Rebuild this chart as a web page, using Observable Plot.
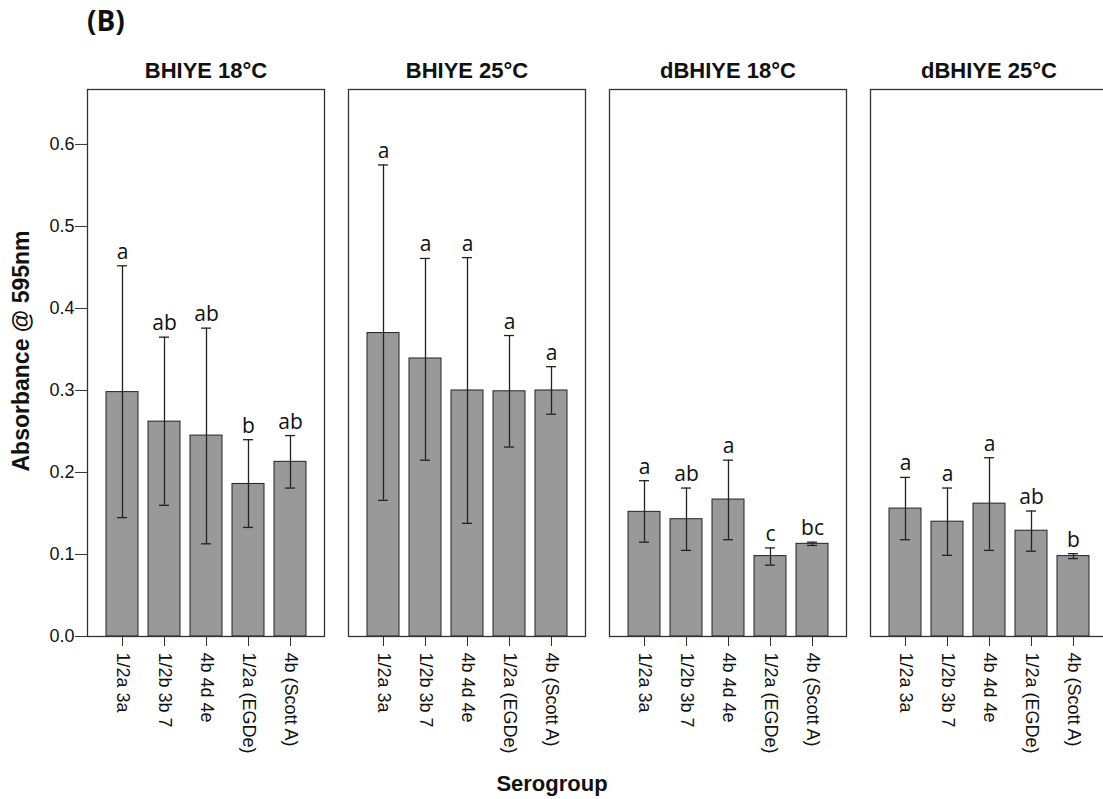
<!DOCTYPE html>
<html>
<head>
<meta charset="utf-8">
<script src="https://cdn.jsdelivr.net/npm/d3@7"></script>
<script src="https://cdn.jsdelivr.net/npm/@observablehq/plot@0.6"></script>
<style>
  body { margin: 0; background: #fff; }
  #wrap { position: relative; width: 1103px; height: 799px; overflow: hidden; background: #fff; }
  #tag { position: absolute; left: 87px; top: 6px; font: bold 28px "Open Sans", sans-serif; line-height: 1; color: #111; }
  #chart { position: absolute; left: 0; top: 50px; width: 1110px; }
  #chart svg { max-width: none !important; }
  #xlab { position: absolute; left: 452px; width: 200px; top: 773px; text-align: center;
          font: bold 22px "Liberation Sans", Arial, sans-serif; line-height: 22px; color: #111; }
</style>
</head>
<body>
<div id="wrap">
  <div id="tag">(B)</div>
  <div id="chart"></div>
  <div id="xlab">Serogroup</div>
</div>
<script>
// Panels (media / temperature) and serogroups
const panels = ["BHIYE 18°C", "BHIYE 25°C", "dBHIYE 18°C", "dBHIYE 25°C"];
const serogroups = ["1/2a 3a", "1/2b 3b 7", "4b 4d 4e", "1/2a (EGDe)", "4b (Scott A)"];

// BHIYE 18°C
const bhiye18Mean = [0.298, 0.262, 0.245, 0.186, 0.213];
const bhiye18Low  = [0.145, 0.160, 0.113, 0.133, 0.181];
const bhiye18High = [0.452, 0.365, 0.376, 0.240, 0.245];
const bhiye18Letters = ["a", "ab", "ab", "b", "ab"];

// BHIYE 25°C
const bhiye25Mean = [0.370, 0.339, 0.300, 0.299, 0.300];
const bhiye25Low  = [0.166, 0.215, 0.138, 0.231, 0.271];
const bhiye25High = [0.575, 0.461, 0.462, 0.367, 0.329];
const bhiye25Letters = ["a", "a", "a", "a", "a"];

// dBHIYE 18°C
const dbhiye18Mean = [0.152, 0.143, 0.167, 0.098, 0.113];
const dbhiye18Low  = [0.115, 0.105, 0.118, 0.087, 0.111];
const dbhiye18High = [0.190, 0.181, 0.215, 0.108, 0.115];
const dbhiye18Letters = ["a", "ab", "a", "c", "bc"];

// dBHIYE 25°C
const dbhiye25Mean = [0.156, 0.140, 0.162, 0.129, 0.098];
const dbhiye25Low  = [0.118, 0.099, 0.105, 0.104, 0.095];
const dbhiye25High = [0.194, 0.181, 0.218, 0.153, 0.101];
const dbhiye25Letters = ["a", "a", "a", "ab", "b"];

const yTicks = [0, 0.1, 0.2, 0.3, 0.4, 0.5, 0.6];
const yLabel = "Absorbance @ 595nm";

const means = [bhiye18Mean, bhiye25Mean, dbhiye18Mean, dbhiye25Mean];
const lows = [bhiye18Low, bhiye25Low, dbhiye18Low, dbhiye25Low];
const highs = [bhiye18High, bhiye25High, dbhiye18High, dbhiye25High];
const letters = [bhiye18Letters, bhiye25Letters, dbhiye18Letters, dbhiye25Letters];

const rows = [];
panels.forEach((p, i) => serogroups.forEach((s, j) => rows.push({
  panel: p, sero: s, mean: means[i][j], low: lows[i][j], high: highs[i][j], letter: letters[i][j]
})));

const ink = "#222";
const chart = Plot.plot({
  width: 1110,
  height: 720,
  marginTop: 39,
  marginBottom: 134,
  marginLeft: 86,
  marginRight: 2.5,
  style: { fontFamily: "'Liberation Sans', Arial, sans-serif", fontSize: "18px", color: "#111", background: "white", maxWidth: "none" },
  fx: { domain: panels, paddingInner: 0.0918, paddingOuter: 0, label: null },
  x: { domain: serogroups, paddingInner: 0.24, paddingOuter: 0.41, label: null },
  y: { domain: [0, 0.667], label: null },
  marks: [
    Plot.barY(rows, { fx: "panel", x: "sero", y: "mean", fill: "#999999", stroke: ink, strokeWidth: 1 }),
    Plot.ruleX(rows, { fx: "panel", x: "sero", y1: "low", y2: "high", stroke: ink, strokeWidth: 1.3 }),
    Plot.tickY(rows, { fx: "panel", x: "sero", y: "low", insetLeft: 11, insetRight: 11, stroke: ink, strokeWidth: 1.3 }),
    Plot.tickY(rows, { fx: "panel", x: "sero", y: "high", insetLeft: 11, insetRight: 11, stroke: ink, strokeWidth: 1.3 }),
    Plot.text(rows, { fx: "panel", x: "sero", y: "high", text: "letter", lineAnchor: "bottom", dy: -7,
                      fontFamily: "'Open Sans', sans-serif", fontSize: 21, fill: "#111" }),
    Plot.frame({ stroke: "#333", strokeWidth: 1.3 }),
    Plot.axisFx({ anchor: "top", tickSize: 0, tickPadding: 12, fontSize: 22, fontWeight: "bold", label: null }),
    Plot.axisY({ ticks: yTicks, tickFormat: d3.format(".1f"), tickSize: 12, tickPadding: 1, label: null, stroke: "#333" }),
    Plot.axisX({ anchor: "bottom", tickRotate: 90, tickSize: 10, tickPadding: 6, label: null, stroke: "#333" }),
    Plot.text([yLabel], { fx: [panels[0]], text: d => d, frameAnchor: "left", textAnchor: "middle", rotate: -90,
                          dx: -66, dy: -12, fontWeight: "bold", fontSize: 23, fill: "#111" })
  ]
});
document.getElementById("chart").appendChild(chart);
</script>
</body>
</html>
